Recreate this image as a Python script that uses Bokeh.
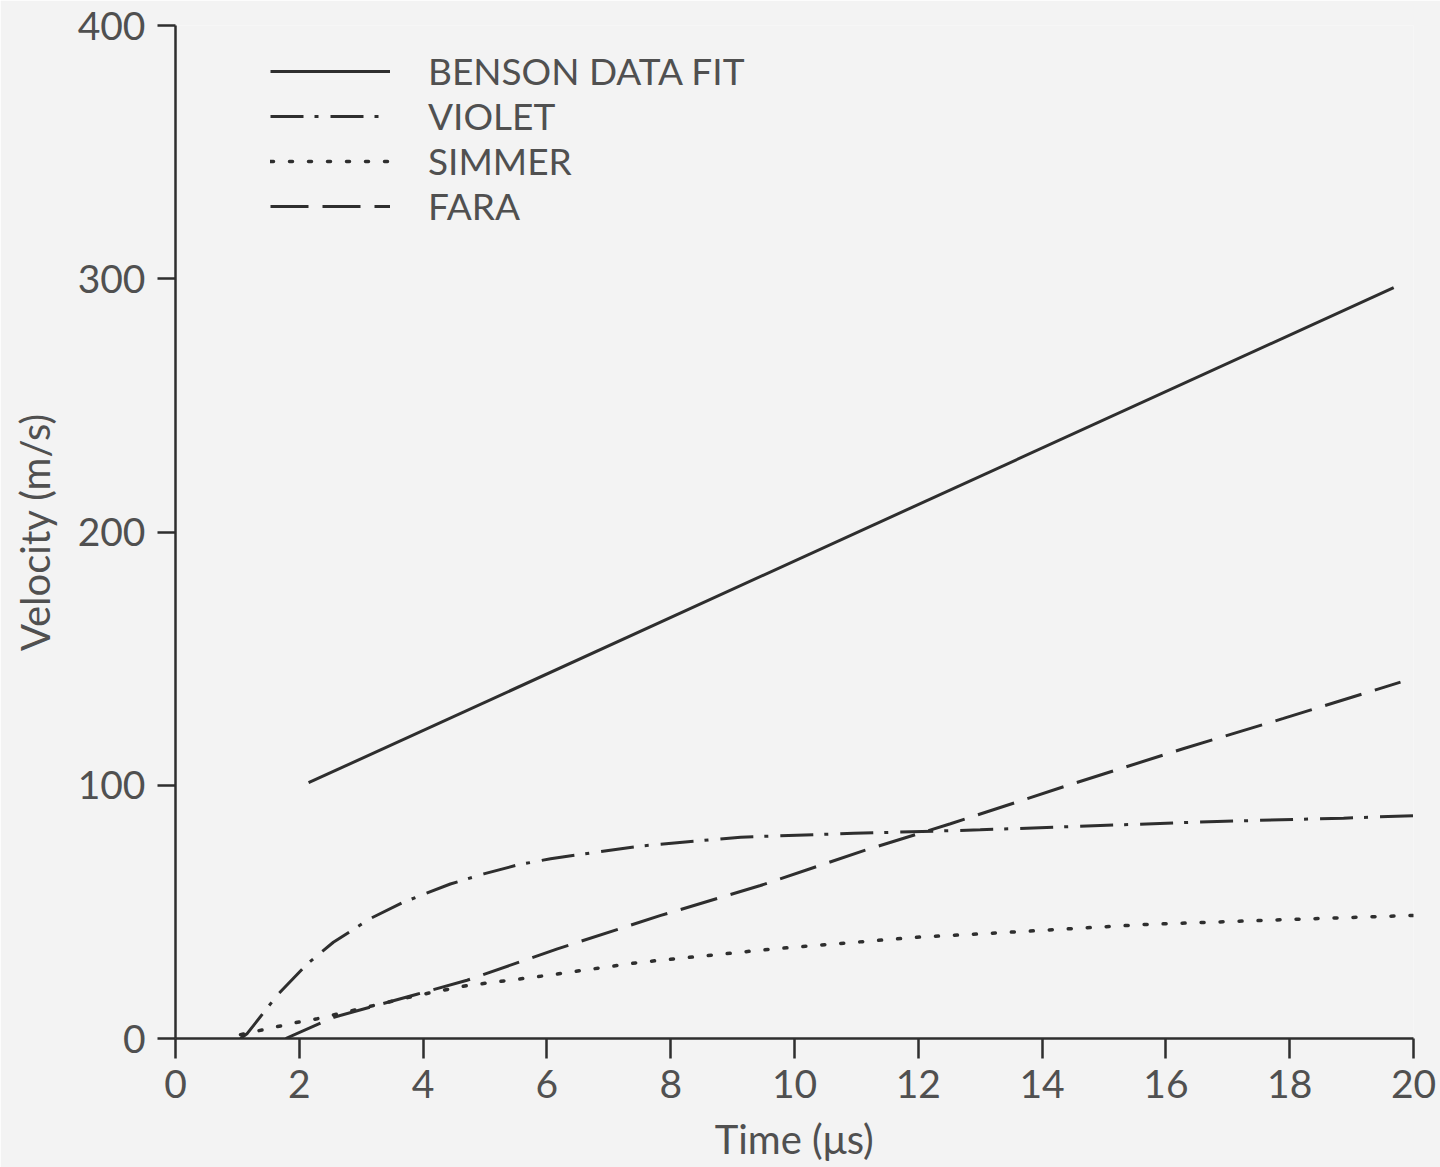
from bokeh.plotting import figure
from bokeh.models import Range1d, FixedTicker, Legend, LegendItem
from bokeh.embed import file_html
from bokeh.resources import INLINE

# Data
benson_t = [2.15, 19.68]
benson_v = [101.0, 296.5]

violet_t = [1.05, 1.16, 1.64, 2.13, 2.55, 3.15, 3.68, 4.44, 4.98, 5.52, 6.06, 7.51, 9.13, 10.96, 13.0, 14.94, 16.83, 18.87, 20.0]
violet_v = [0.0, 2.0, 17.0, 29.5, 38.0, 47.4, 53.8, 61.0, 65.0, 68.5, 71.0, 76.0, 79.5, 81.0, 82.4, 84.1, 85.7, 87.0, 88.0]

simmer_t = [1.05, 1.42, 1.97, 2.29, 3.9, 4.71, 5.36, 5.79, 7.51, 9.67, 11.98, 13.0, 15.64, 18.0, 20.0]
simmer_v = [1.5, 3.5, 6.4, 7.8, 17.0, 20.9, 22.9, 24.2, 30.1, 35.4, 40.0, 41.3, 45.0, 47.0, 48.6]

fara_t = [1.78, 2.56, 3.9, 4.71, 6.17, 7.84, 9.45, 11.12, 12.52, 14.51, 16.29, 17.9, 19.79]
fara_v = [0.0, 8.4, 17.5, 23.0, 35.4, 48.6, 60.4, 74.2, 84.8, 100.7, 114.5, 126.4, 140.7]

x_ticks = [0, 2, 4, 6, 8, 10, 12, 14, 16, 18, 20]
y_ticks = [0, 100, 200, 300, 400]

BG = "#f3f3f3"
INK = "#2e2e2e"
TXT = "#505050"
FONT = "Lato"

p = figure(width=1440, height=1167, output_backend="svg", toolbar_location=None,
           x_range=Range1d(0, 20), y_range=Range1d(0, 400),
           min_border_left=175, min_border_right=27, min_border_top=25, min_border_bottom=129)
p.background_fill_color = BG
p.border_fill_color = BG
p.outline_line_color = None
p.xgrid.visible = False
p.ygrid.visible = False

r1 = p.line(benson_t, benson_v, line_color=INK, line_width=3)
r2 = p.line(violet_t, violet_v, line_color=INK, line_width=3, line_dash="33 11 4 12")
r3 = p.line(simmer_t, simmer_v, line_color=INK, line_width=3.5, line_dash="3 16", line_cap="round")
r4 = p.line(fara_t, fara_v, line_color=INK, line_width=3, line_dash="38 14")

for ax in (p.xaxis[0], p.yaxis[0]):
    ax.axis_line_color = INK
    ax.axis_line_width = 2.5
    ax.major_tick_line_color = INK
    ax.major_tick_line_width = 2.5
    ax.minor_tick_line_color = None
    ax.major_tick_in = 0
    ax.major_label_text_font = FONT
    ax.major_label_text_color = TXT
    ax.major_label_text_font_size = "39px"
    ax.axis_label_text_font = FONT
    ax.axis_label_text_color = TXT
    ax.axis_label_text_font_size = "40px"
    ax.axis_label_text_font_style = "normal"

p.xaxis.ticker = FixedTicker(ticks=x_ticks)
p.yaxis.ticker = FixedTicker(ticks=y_ticks)
p.xaxis.major_tick_out = 20
p.yaxis.major_tick_out = 18
p.xaxis.major_label_standoff = 11
p.yaxis.major_label_standoff = 12
p.xaxis.axis_label = "Time (μs)"
p.yaxis.axis_label = "Velocity (m/s)"
p.xaxis.axis_label_standoff = 14
p.yaxis.axis_label_standoff = 16

legend = Legend(items=[
    LegendItem(label="BENSON DATA FIT", renderers=[r1]),
    LegendItem(label="VIOLET", renderers=[r2]),
    LegendItem(label="SIMMER", renderers=[r3]),
    LegendItem(label="FARA", renderers=[r4]),
], location=(95, 810))
legend.background_fill_alpha = 0
legend.border_line_color = None
legend.padding = 0
legend.margin = 0
legend.spacing = 0
legend.glyph_width = 120
legend.glyph_height = 40
legend.label_height = 40
legend.label_standoff = 38
legend.label_text_font = FONT
legend.label_text_font_size = "37px"
legend.label_text_color = TXT
p.add_layout(legend)

open("out.html", "w").write(file_html(p, INLINE))
